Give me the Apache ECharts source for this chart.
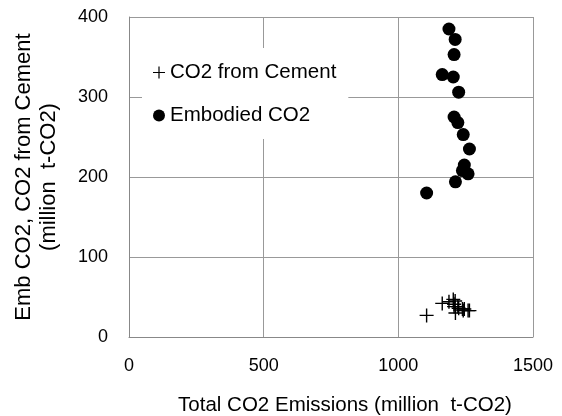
<!DOCTYPE html>
<html>
<head>
<meta charset="utf-8">
<script src="https://cdn.jsdelivr.net/npm/echarts@6/dist/echarts.min.js"></script>
<style>
  html, body { margin: 0; padding: 0; background: #fff; }
  #main { width: 562px; height: 416px; }
</style>
</head>
<body>
<div id="main"></div>
<script>
// total CO2 emissions (x), shared by both series
var totalCO2 = [1188, 1211, 1207, 1163, 1204, 1224, 1207, 1221, 1241, 1264, 1245, 1238, 1259, 1212, 1105];
var embodiedCO2 = [385, 372, 353, 328, 325, 306, 275, 268, 253, 235, 215, 208, 204, 194, 180];
var cementCO2 = [44, 45, 41, 42, 47, 36, 38, 38, 33, 33, 35, 35, 33, 30, 27];
var xTicks = [0, 500, 1000, 1500];
var yTicks = [0, 100, 200, 300, 400];

function pairs(xs, ys) {
    return xs.map(function (x, i) { return [x, ys[i]]; });
}

var crossPath = 'path://M0,6.3H14V7.7H0Z M6.3,0H7.7V14H6.3Z';
var font = 'Liberation Sans, Arial, sans-serif';

var myChart = echarts.init(document.getElementById('main'));

var option = {
    animation: false,
    backgroundColor: '#fff',
    textStyle: { fontFamily: font },
    grid: { left: 129, right: 29, top: 17, bottom: 79, containLabel: false, outerBoundsMode: 'none' },
    legend: {
        orient: 'vertical',
        left: 142,
        top: 48,
        backgroundColor: '#fff',
        padding: [14, 12, 13, 11],
        itemWidth: 12,
        itemHeight: 12,
        itemGap: 22,
        textStyle: { fontSize: 20.5, lineHeight: 20, color: '#000', fontFamily: font },
        data: [
            { name: 'CO2 from Cement', icon: crossPath },
            { name: 'Embodied CO2', icon: 'circle' }
        ]
    },
    xAxis: {
        type: 'value',
        min: 0,
        max: 1500,
        interval: 500,
        name: 'Total CO2 Emissions (million  t-CO2)',
        nameLocation: 'middle',
        nameGap: 58,
        nameTextStyle: { fontSize: 20.5, color: '#000', padding: [0, 0, 0, 28] },
        axisLine: { lineStyle: { color: '#888' } },
        axisTick: { show: false },
        axisLabel: {
            fontSize: 18, color: '#000', margin: 20,
            formatter: function (v) { return xTicks.indexOf(v) >= 0 ? String(v) : ''; }
        },
        splitLine: { lineStyle: { color: '#999' } }
    },
    yAxis: {
        type: 'value',
        min: 0,
        max: 400,
        interval: 100,
        name: 'Emb CO2, CO2 from Cement\n(million  t-CO2)',
        nameLocation: 'middle',
        nameGap: 68,
        nameTextStyle: { fontSize: 22, color: '#000', lineHeight: 25 },
        axisLine: { lineStyle: { color: '#888' } },
        axisTick: { show: false },
        axisLabel: {
            fontSize: 18, color: '#000', margin: 21,
            formatter: function (v) { return yTicks.indexOf(v) >= 0 ? String(v) : ''; }
        },
        splitLine: { lineStyle: { color: '#999' } }
    },
    series: [
        {
            name: 'CO2 from Cement',
            type: 'scatter',
            symbol: crossPath,
            symbolSize: 14,
            itemStyle: { color: '#000', opacity: 1 },
            emphasis: { disabled: true },
            data: pairs(totalCO2, cementCO2)
        },
        {
            name: 'Embodied CO2',
            type: 'scatter',
            symbol: 'circle',
            symbolSize: 13,
            itemStyle: { color: '#000', opacity: 1 },
            emphasis: { disabled: true },
            data: pairs(totalCO2, embodiedCO2)
        }
    ]
};

myChart.setOption(option);
</script>
</body>
</html>
